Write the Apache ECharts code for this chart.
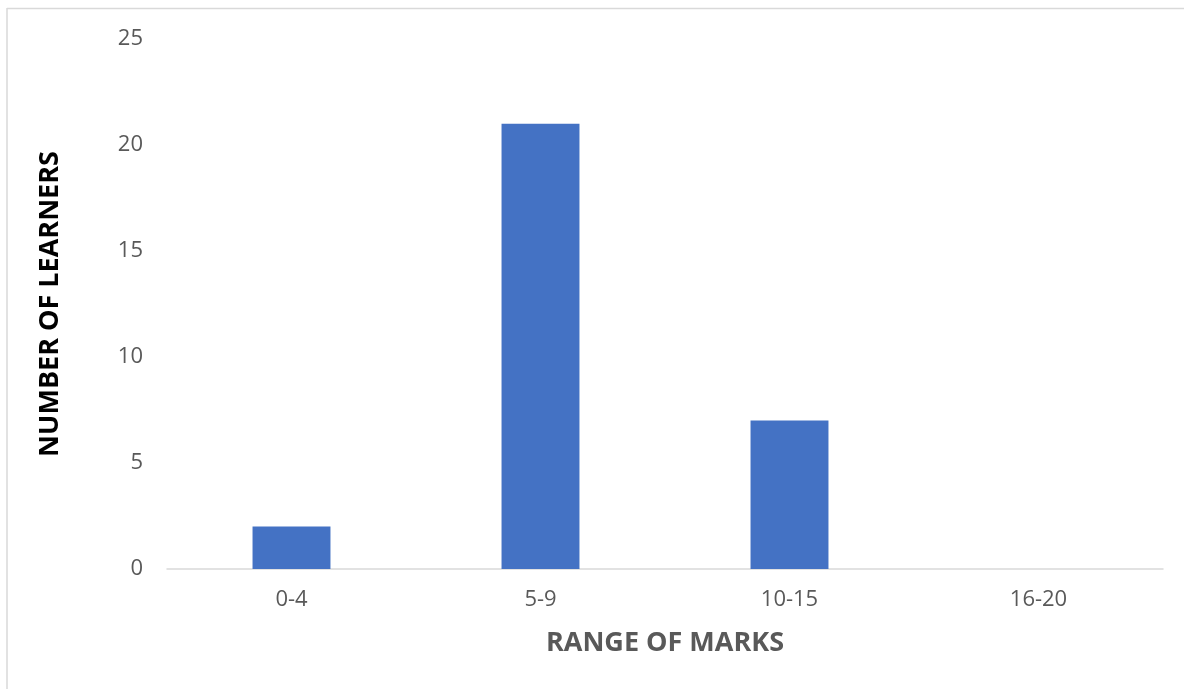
<!DOCTYPE html>
<html>
<head>
<meta charset="utf-8">
<style>
  html, body { margin: 0; padding: 0; background: #ffffff; }
  #chart { width: 1184px; height: 689px; }
</style>
<script src="https://cdn.jsdelivr.net/npm/echarts@6/dist/echarts.min.js"></script>
</head>
<body>
<div id="chart"></div>
<script>
// Mark ranges and how many learners scored in each
const markRanges = ['0-4', '5-9', '10-15', '16-20'];
const learnerCounts = [2, 21, 7, 0];
const yTicks = { min: 0, max: 25, interval: 5 };

const chart = echarts.init(document.getElementById('chart'), null, { renderer: 'canvas' });
const font = '"Open Sans", "Liberation Sans", sans-serif';

chart.setOption({
  animation: false,
  backgroundColor: '#ffffff',
  graphic: [
    // frame edges along the top and left
    { type: 'line', shape: { x1: 7, y1: 8.5, x2: 1184, y2: 8.5 }, style: { stroke: '#d9d9d9', lineWidth: 1.5 } },
    { type: 'line', shape: { x1: 7, y1: 8, x2: 7, y2: 689 }, style: { stroke: '#d9d9d9', lineWidth: 1.5 } }
  ],
  grid: { left: 167, right: 21, top: 39, bottom: 120 },
  xAxis: {
    type: 'category',
    data: markRanges,
    name: 'RANGE OF MARKS',
    nameLocation: 'middle',
    nameGap: 61,
    nameTextStyle: { fontFamily: font, fontSize: 27, fontWeight: 'bold', color: '#595959' },
    axisLine: { lineStyle: { color: '#d9d9d9', width: 1.5 } },
    axisTick: { show: false },
    axisLabel: { fontFamily: font, fontSize: 22, color: '#595959', margin: 20 }
  },
  yAxis: {
    type: 'value',
    min: yTicks.min,
    max: yTicks.max,
    interval: yTicks.interval,
    name: 'NUMBER OF LEARNERS',
    nameLocation: 'middle',
    nameGap: 103,
    nameTextStyle: { fontFamily: font, fontSize: 27, fontWeight: 'bold', color: '#000000' },
    axisLine: { show: false },
    axisTick: { show: false },
    splitLine: { show: false },
    axisLabel: { fontFamily: font, fontSize: 22, color: '#595959', margin: 24 }
  },
  series: [{
    type: 'bar',
    data: learnerCounts,
    barWidth: '31.3%',
    itemStyle: { color: '#4472c4' }
  }]
});
</script>
</body>
</html>
